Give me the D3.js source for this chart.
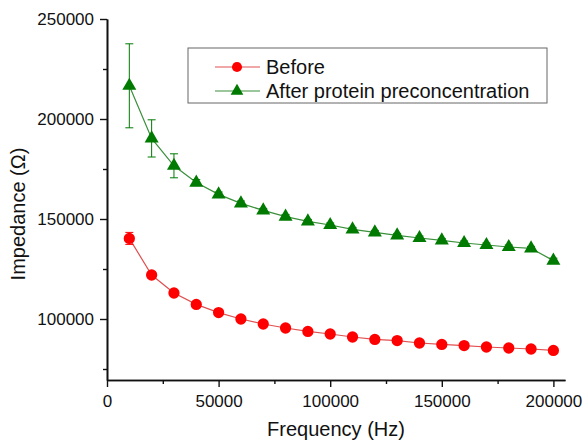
<!DOCTYPE html>
<html>
<head>
<meta charset="utf-8">
<script src="https://cdn.jsdelivr.net/npm/d3@7"></script>
<style>
  body { margin: 0; background: #fff; }
  text { font-family: Arial, "Liberation Sans", sans-serif; fill: #111; }
</style>
</head>
<body>
<svg width="586" height="442"></svg>
<script>
// frequencies (Hz)
const freq = [10000, 20000, 30000, 40000, 50000, 60000, 70000, 80000, 90000, 100000,
  110000, 120000, 130000, 140000, 150000, 160000, 170000, 180000, 190000, 200000];

const before = [140300, 122000, 113000, 107300, 103200, 100000, 97500, 95500, 93800, 92500,
  91000, 89800, 89200, 88000, 87300, 86700, 86000, 85500, 85000, 84300];
const beforeErr = [3000, 1500, 1000, 800, 600, 500, 500, 400, 400, 400,
  400, 400, 400, 400, 400, 400, 400, 400, 400, 400];

const after = [216600, 190300, 176600, 168200, 162300, 157800, 154300, 151200, 148800, 147000,
  144800, 143300, 141800, 140500, 139300, 138000, 137000, 136000, 135300, 129200];
const afterErr = [21000, 9300, 6000, 1500, 1200, 1200, 1000, 1000, 1000, 1000,
  1000, 1000, 1000, 1000, 1000, 1000, 1000, 1000, 1000, 1200];

const xTicks = [0, 50000, 100000, 150000, 200000];
const yTicks = [100000, 150000, 200000, 250000];

const svg = d3.select('svg');

const x = d3.scaleLinear().domain([0, 205200]).range([107, 565]);
const y = d3.scaleLinear().domain([69500, 250000]).range([380, 19]);

// axes
const xAxis = svg.append('g')
  .attr('transform', 'translate(0,380)')
  .call(d3.axisBottom(x).tickValues(xTicks).tickSize(7).tickSizeOuter(0).tickPadding(5).tickFormat(d3.format('d')));
const yAxis = svg.append('g')
  .attr('transform', 'translate(107,0)')
  .call(d3.axisLeft(y).tickValues(yTicks).tickSize(7).tickSizeOuter(0).tickPadding(6).tickFormat(d3.format('d')));

// minor ticks
svg.append('g')
  .attr('transform', 'translate(0,380)')
  .call(d3.axisBottom(x).tickValues([25000, 75000, 125000, 175000]).tickSize(4).tickSizeOuter(0).tickFormat(''));
svg.append('g')
  .attr('transform', 'translate(107,0)')
  .call(d3.axisLeft(y).tickValues([75000, 125000, 175000, 225000]).tickSize(4).tickSizeOuter(0).tickFormat(''));

svg.selectAll('.domain').attr('stroke', '#111').attr('stroke-width', 1.6);
svg.selectAll('.tick line').attr('stroke', '#111').attr('stroke-width', 1.4);
svg.selectAll('.tick text').style('font-size', '17px').attr('fill', '#222');
xAxis.selectAll('.tick text').attr('y', 27).attr('dy', 0);

function drawSeries(vals, errs, color, lineColor, shape) {
  const g = svg.append('g');
  const pts = freq.map((f, i) => ({ f: f, v: vals[i], e: errs[i] }));

  g.append('path')
    .datum(pts)
    .attr('fill', 'none')
    .attr('stroke', lineColor)
    .attr('stroke-width', 1.2)
    .attr('d', d3.line().x(d => x(d.f)).y(d => y(d.v)));

  const eb = g.selectAll('.err').data(pts).enter().append('g');
  eb.append('line')
    .attr('x1', d => x(d.f)).attr('x2', d => x(d.f))
    .attr('y1', d => y(d.v + d.e)).attr('y2', d => y(d.v - d.e))
    .attr('stroke', color).attr('stroke-width', 1);
  eb.append('line')
    .attr('x1', d => x(d.f) - 4).attr('x2', d => x(d.f) + 4)
    .attr('y1', d => y(d.v + d.e)).attr('y2', d => y(d.v + d.e))
    .attr('stroke', color).attr('stroke-width', 1);
  eb.append('line')
    .attr('x1', d => x(d.f) - 4).attr('x2', d => x(d.f) + 4)
    .attr('y1', d => y(d.v - d.e)).attr('y2', d => y(d.v - d.e))
    .attr('stroke', color).attr('stroke-width', 1);

  g.selectAll('.mk').data(pts).enter().append('path')
    .attr('transform', d => `translate(${x(d.f)},${y(d.v)})`)
    .attr('d', d3.symbol().type(shape).size(shape === d3.symbolCircle ? 100 : 85))
    .attr('fill', color);
}

drawSeries(before, beforeErr, '#ff0000', '#e05050', d3.symbolCircle);
drawSeries(after, afterErr, '#007a00', '#3a8f3a', d3.symbolTriangle);

// legend
const legend = svg.append('g');
legend.append('rect')
  .attr('x', 188).attr('y', 48).attr('width', 359).attr('height', 55)
  .attr('fill', '#fff').attr('stroke', '#666').attr('stroke-width', 1);

const legendItems = [
  { label: 'Before', color: '#ff0000', line: '#e05050', shape: d3.symbolCircle },
  { label: 'After protein preconcentration', color: '#007a00', line: '#3a8f3a', shape: d3.symbolTriangle }
];
legendItems.forEach((it, i) => {
  const ly = 67 + i * 24;
  legend.append('line').attr('x1', 215).attr('x2', 260).attr('y1', ly).attr('y2', ly)
    .attr('stroke', it.line).attr('stroke-width', 1.2);
  legend.append('path')
    .attr('transform', `translate(237,${ly})`)
    .attr('d', d3.symbol().type(it.shape).size(it.shape === d3.symbolCircle ? 80 : 70))
    .attr('fill', it.color);
  legend.append('text').attr('x', 266).attr('y', ly + 7)
    .style('font-size', '20px').text(it.label);
});

// axis titles
svg.append('text')
  .attr('x', 336).attr('y', 436)
  .attr('text-anchor', 'middle')
  .style('font-size', '20px')
  .text('Frequency (Hz)');

svg.append('text')
  .attr('transform', 'translate(25,214) rotate(-90)')
  .attr('text-anchor', 'middle')
  .style('font-size', '20px')
  .text('Impedance (Ω)');
</script>
</body>
</html>
